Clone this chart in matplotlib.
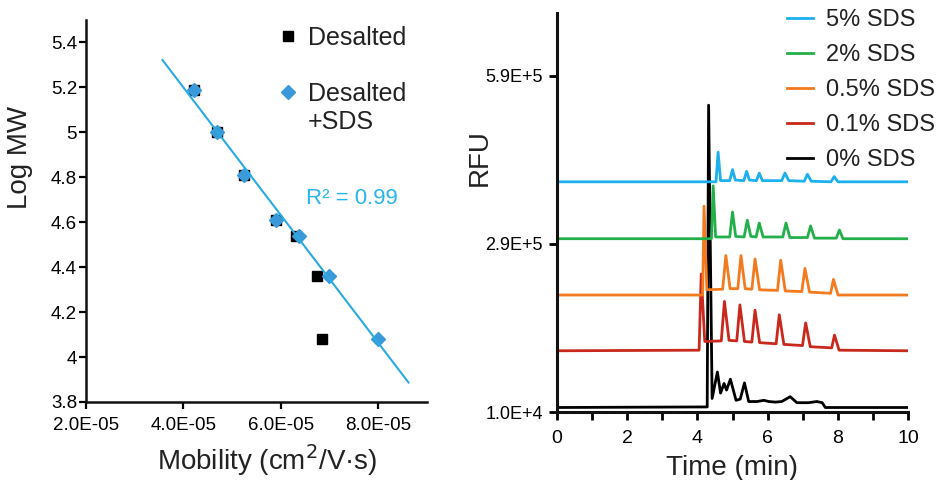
import numpy as np
import matplotlib
matplotlib.use("Agg")
import matplotlib.pyplot as plt
from matplotlib.ticker import FixedLocator, MultipleLocator

plt.rcParams['font.family'] = ['Liberation Sans', 'DejaVu Sans']

# Calibration: log MW vs mobility
mob_desalted = [4.21e-5, 4.69e-5, 5.24e-5, 5.89e-5, 6.31e-5, 6.75e-5, 6.84e-5]
logmw_desalted = [5.19, 5.00, 4.81, 4.61, 4.54, 4.36, 4.08]
mob_sds = [4.21e-5, 4.69e-5, 5.24e-5, 5.89e-5, 6.38e-5, 6.99e-5, 8.00e-5]
logmw_sds = [5.19, 5.00, 4.81, 4.61, 4.54, 4.36, 4.08]
fit_range = [3.57e-5, 8.62e-5]
r2_label = "R\u00b2 = 0.99"
mob_ticks = [2e-5, 4e-5, 6e-5, 8e-5]
logmw_ticks = [3.8, 4.0, 4.2, 4.4, 4.6, 4.8, 5.0, 5.2, 5.4]

# Electropherograms, one trace per SDS level (time in min, RFU)
t_5 = [0, 4.53, 4.59, 4.66, 4.92, 5.00, 5.08, 5.32, 5.40, 5.48, 5.68, 5.76, 5.85,
       6.40, 6.49, 6.60, 7.04, 7.13, 7.24, 7.80, 7.89, 8.00, 10]
rfu_5 = [4.07e5, 4.07e5, 4.58e5, 4.09e5, 4.09e5, 4.28e5, 4.10e5, 4.09e5, 4.25e5, 4.10e5,
         4.09e5, 4.22e5, 4.09e5, 4.09e5, 4.22e5, 4.09e5, 4.08e5, 4.20e5, 4.08e5,
         4.07e5, 4.16e5, 4.07e5, 4.07e5]
t_2 = [0, 4.40, 4.45, 4.52, 4.92, 5.00, 5.09, 5.33, 5.42, 5.52, 5.67, 5.76, 5.87,
       6.43, 6.52, 6.63, 7.13, 7.22, 7.33, 7.95, 8.04, 8.14, 10]
rfu_2 = [3.09e5, 3.09e5, 4.00e5, 3.12e5, 3.12e5, 3.55e5, 3.13e5, 3.12e5, 3.41e5, 3.13e5,
         3.12e5, 3.36e5, 3.12e5, 3.12e5, 3.36e5, 3.11e5, 3.11e5, 3.31e5, 3.10e5,
         3.10e5, 3.24e5, 3.09e5, 3.09e5]
t_05 = [0, 4.15, 4.19, 4.27, 4.72, 4.81, 4.93, 5.15, 5.24, 5.36, 5.55, 5.64, 5.77,
        6.28, 6.37, 6.50, 6.97, 7.06, 7.19, 7.79, 7.87, 8.00, 10]
rfu_05 = [2.12e5, 2.12e5, 3.65e5, 2.21e5, 2.22e5, 2.80e5, 2.23e5, 2.23e5, 2.80e5, 2.23e5,
          2.22e5, 2.74e5, 2.21e5, 2.20e5, 2.72e5, 2.19e5, 2.18e5, 2.58e5, 2.17e5,
          2.15e5, 2.39e5, 2.12e5, 2.12e5]
t_01 = [0, 4.05, 4.11, 4.21, 4.68, 4.77, 4.90, 5.12, 5.21, 5.34, 5.55, 5.64, 5.77,
        6.24, 6.33, 6.46, 6.99, 7.08, 7.21, 7.82, 7.90, 8.03, 10]
rfu_01 = [1.16e5, 1.17e5, 2.48e5, 1.32e5, 1.33e5, 2.01e5, 1.34e5, 1.33e5, 1.95e5, 1.32e5,
          1.31e5, 1.86e5, 1.30e5, 1.28e5, 1.78e5, 1.27e5, 1.25e5, 1.64e5, 1.23e5,
          1.21e5, 1.43e5, 1.17e5, 1.16e5]
t_0 = [0, 4.28, 4.32, 4.42, 4.57, 4.66, 4.76, 4.83, 4.94, 5.10, 5.22, 5.34, 5.46,
       5.70, 5.89, 6.03, 6.22, 6.40, 6.64, 6.83, 7.16, 7.40, 7.55, 7.64, 10]
rfu_0 = [1.83e4, 1.93e4, 5.39e5, 3.38e4, 7.94e4, 4.31e4, 5.97e4, 4.83e4, 6.70e4, 3.07e4,
         3.28e4, 6.07e4, 2.86e4, 2.86e4, 3.07e4, 2.86e4, 2.76e4, 2.86e4, 3.69e4, 2.66e4,
         2.66e4, 2.86e4, 2.66e4, 1.83e4, 1.83e4]

trace_labels = ["5% SDS", "2% SDS", "0.5% SDS", "0.1% SDS", "0% SDS"]
trace_colors = ["#1cb0ef", "#23b04a", "#f47a1f", "#c9281c", "#000000"]
rfu_ticks = [1.0e4, 3.0e5, 5.9e5]
rfu_ticklabels = ["1.0E+4", "2.9E+5", "5.9E+5"]

fig = plt.figure(figsize=(9.41, 4.80), dpi=100)

# ---- left: mobility calibration ----
ax1 = fig.add_axes([0.0914, 0.1625, 0.3624, 0.7958])
ax1.plot(mob_desalted, logmw_desalted, ls='none', marker='s', ms=7.5,
         color='black', label='Desalted')
ax1.plot(mob_sds, logmw_sds, ls='none', marker='D', ms=7.2,
         color='#3a9ad9', label='Desalted')

slope, intercept = np.polyfit(mob_sds, logmw_sds, 1)
xf = np.array(fit_range)
ax1.plot(xf, slope * xf + intercept, color='#29abe2', lw=1.5)
ax1.text(0.645, 0.534, r2_label, transform=ax1.transAxes, color='#29b5ef',
         fontsize=16, ha='left', va='center')

ax1.set_xlim(2e-5, 9e-5)
ax1.set_ylim(3.8, 5.5)
ax1.xaxis.set_major_locator(FixedLocator(mob_ticks))
ax1.yaxis.set_major_locator(FixedLocator(logmw_ticks))
ax1.set_xticklabels([f"{v:.1E}" for v in mob_ticks])
ax1.set_yticklabels([f"{v:g}" for v in logmw_ticks])
ax1.tick_params(axis='x', labelsize=13.5, length=5, width=1.6, pad=6, colors='#000000')
ax1.tick_params(axis='y', labelsize=13.5, length=5, width=1.6, pad=1.5, colors='#000000')
ax1.set_xlabel("Mobility (cm$^2$/V\u00b7s)", fontsize=20, color='#222222')
ax1.set_ylabel("Log MW", fontsize=20, color='#222222')
ax1.xaxis.set_label_coords(0.53, -0.105)
ax1.yaxis.set_label_coords(-0.155, 0.641)
for side in ['top', 'right']:
    ax1.spines[side].set_visible(False)
for side in ['left', 'bottom']:
    ax1.spines[side].set_linewidth(1.8)
    ax1.spines[side].set_color('#111111')

leg1 = ax1.legend(loc='upper left', bbox_to_anchor=(0.563, 0.985), frameon=False,
                  fontsize=18, handlelength=0.8, handletextpad=0.4, labelspacing=1.3,
                  borderaxespad=0, borderpad=0, labelcolor='#222222')
# second line of the SDS entry, hung under its legend text
ax1.annotate("+SDS", xy=(0, 0), xycoords=leg1.get_texts()[1], xytext=(0, -3),
             textcoords='offset points', ha='left', va='top', fontsize=18,
             color='#222222', zorder=6)

# ---- right: electropherograms ----
ax2 = fig.add_axes([0.5916, 0.141, 0.3737, 0.831])
traces = [(t_5, rfu_5), (t_2, rfu_2), (t_05, rfu_05), (t_01, rfu_01), (t_0, rfu_0)]
# draw bottom-up so the 0% trace ends up on top
for (t, v), lab, col in list(zip(traces, trace_labels, trace_colors))[::-1]:
    ax2.plot(t, v, color=col, lw=2, label=lab, solid_joinstyle='round')

ax2.set_xlim(0, 10)
ax2.set_ylim(1.0e4, 6.97e5)
ax2.xaxis.set_major_locator(MultipleLocator(2))
ax2.xaxis.set_minor_locator(MultipleLocator(1))
ax2.yaxis.set_major_locator(FixedLocator(rfu_ticks))
ax2.set_yticklabels(rfu_ticklabels)
ax2.tick_params(axis='x', which='both', length=6, width=2, labelsize=14, pad=7,
                colors='#000000')
ax2.tick_params(axis='y', length=6, width=2, labelsize=13, pad=4, colors='#000000')
ax2.set_xlabel("Time (min)", fontsize=20, color='#222222')
ax2.set_ylabel("RFU", fontsize=20, color='#222222')
ax2.xaxis.set_label_coords(0.499, -0.108)
ax2.yaxis.set_label_coords(-0.181, 0.639)
for side in ['top', 'right']:
    ax2.spines[side].set_visible(False)
for side in ['left', 'bottom']:
    ax2.spines[side].set_linewidth(2.2)
    ax2.spines[side].set_color('#111111')

handles, labels = ax2.get_legend_handles_labels()
ax2.legend(handles[::-1], labels[::-1], loc='upper left',
           bbox_to_anchor=(0.836, 0.981), bbox_transform=fig.transFigure,
           frameon=False, fontsize=17, handlelength=1.1, handletextpad=0.55,
           labelspacing=0.55, borderaxespad=0, borderpad=0, labelcolor='#222222')

fig.savefig("out.png", dpi=100)
